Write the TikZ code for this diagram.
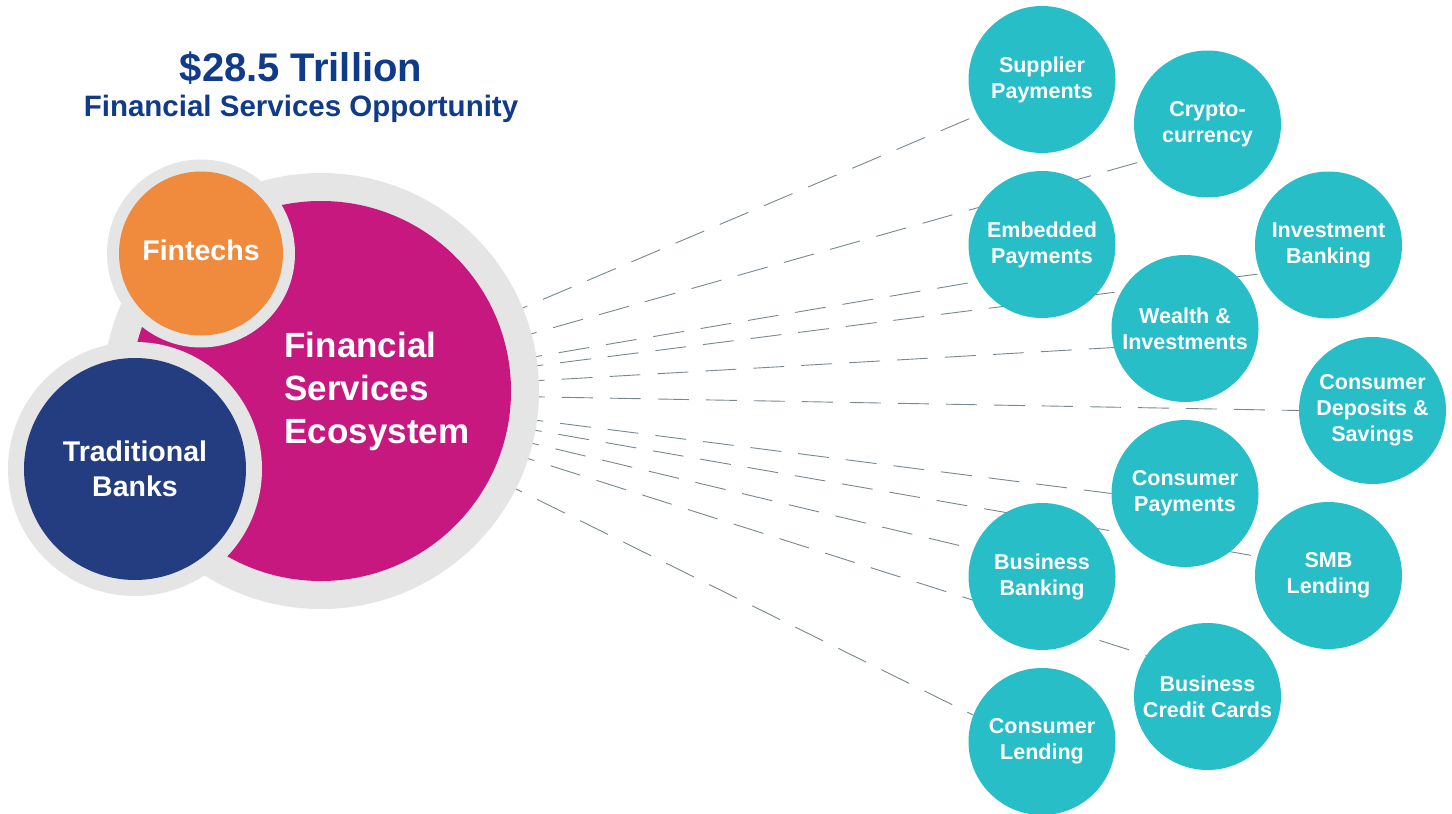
\documentclass[tikz,border=0pt]{standalone}
\usepackage{fontspec}
\setmainfont{Liberation Sans}
\usetikzlibrary{backgrounds}
\definecolor{cteal}{RGB}{40,190,200}
\definecolor{cmag}{RGB}{198,24,126}
\definecolor{corange}{RGB}{240,138,60}
\definecolor{cnavy}{RGB}{35,61,128}
\definecolor{cring}{RGB}{229,229,229}
\definecolor{ctitle}{RGB}{16,58,138}
\definecolor{cdash}{RGB}{120,136,144}
\begin{document}
\begin{tikzpicture}[x=1pt,y=-1pt,
  ring/.style={circle,fill=cring,inner sep=0pt,outer sep=0pt},
  disc/.style={circle,inner sep=0pt,outer sep=0pt,text=white,align=center},
  bubble/.style={disc,fill=cteal,minimum size=147pt,font=\bfseries\fontsize{21.5}{26}\selectfont},
  link/.style={draw=cdash,line width=0.9pt,dash pattern=on 31pt off 17pt}]
\useasboundingbox (0,0) rectangle (1452,814);
% title
\node[anchor=base,text=ctitle,font=\bfseries\fontsize{40}{40}\selectfont] (title) at (301,81) {\$28.5 Trillion};
\node[anchor=base,text=ctitle,font=\bfseries\fontsize{29.5}{30}\selectfont] (subtitle) at (301,116) {Financial Services Opportunity};
% left cluster
\node[ring,minimum size=436pt] (fsering) at (321,391) {};
\node[disc,fill=cmag,minimum size=380pt] (fse) at (321,391) {};
\node[ring,minimum size=188pt] (fintring) at (201,253.5) {};
\node[disc,fill=corange,minimum size=164pt,text depth=6pt,font=\bfseries\fontsize{28.5}{34}\selectfont] (fint) at (201,253.5) {Fintechs};
\node[ring,minimum size=254pt] (tbring) at (135,469) {};
\node[disc,fill=cnavy,minimum size=222pt,font=\bfseries\fontsize{28.5}{35}\selectfont] (tb) at (135,469) {Traditional\\Banks};
\node[anchor=west,align=left,text=white,font=\bfseries\fontsize{35}{43}\selectfont] (fsetext) at (281,391) {Financial\\Services\\Ecosystem};
% bubbles
\node[bubble] (sp)  at (1042,79.5)   {Supplier\\Payments};
\node[bubble] (cr)  at (1207.5,124)  {Crypto-\\currency};
\node[bubble] (ep)  at (1042,244.5)  {Embedded\\Payments};
\node[bubble] (ib)  at (1328.5,245)  {Investment\\Banking};
\node[bubble] (wi)  at (1185,328.5)  {Wealth \&\\Investments};
\node[bubble] (cd)  at (1372.5,410.5){Consumer\\Deposits \&\\Savings};
\node[bubble] (cp)  at (1185,493.5)  {Consumer\\Payments};
\node[bubble] (smb) at (1328.5,575.5){SMB\\Lending};
\node[bubble] (bb)  at (1042,576.5)  {Business\\Banking};
\node[bubble] (bcc) at (1207.5,696.5){Business\\Credit Cards};
\node[bubble] (cl)  at (1042,741.5)  {Consumer\\Lending};
% connectors
\coordinate (hub) at (322,393);
\begin{scope}[on background layer]
\fill[white] (0,0) rectangle (1452,814);
\foreach \t/\a in {sp/209.3,cr/210.1,ep/210,ib/203.5,wi/195.2,cd/180,cp/180,smb/165.1,bb/158.6,bcc/146.4,cl/159.3}
  \draw[link] (hub) -- (\t.\a);
\end{scope}
\end{tikzpicture}
\end{document}
